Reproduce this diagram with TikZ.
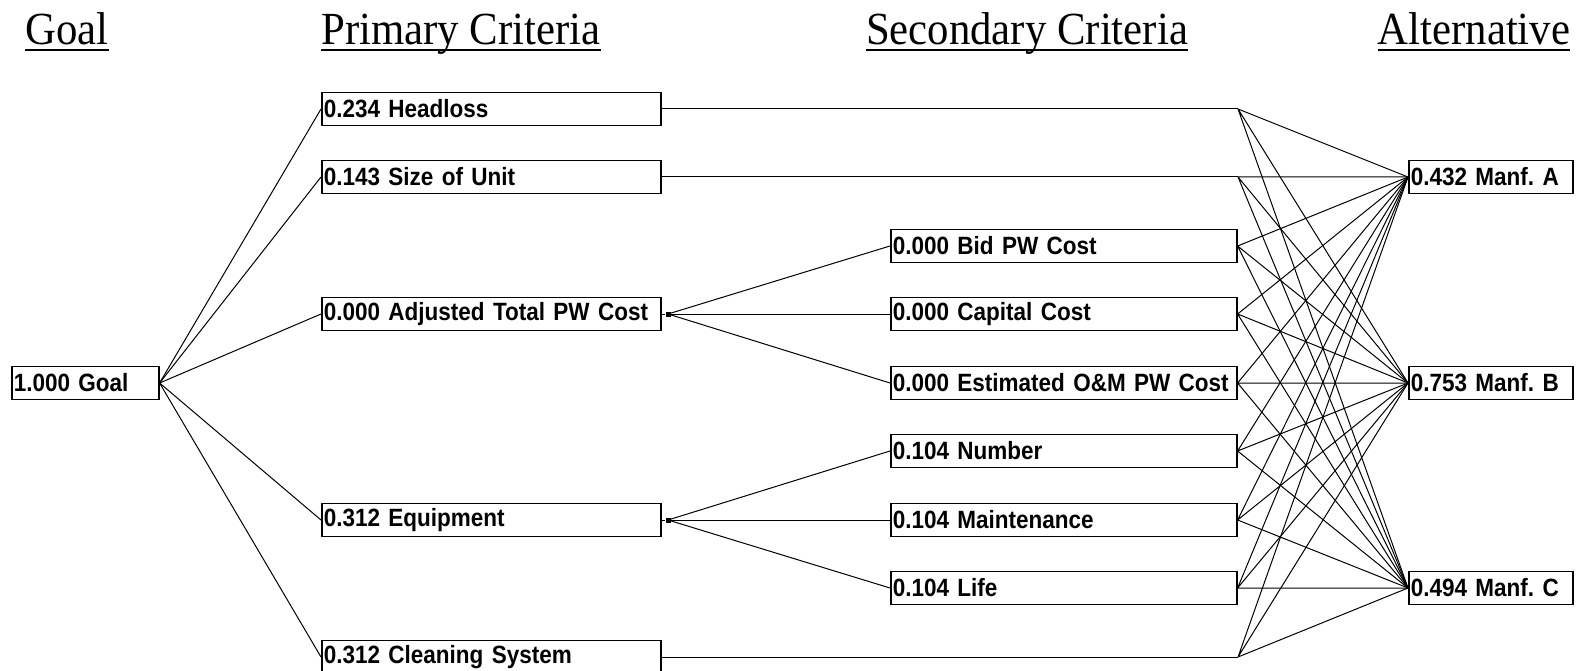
\documentclass[tikz,border=0pt]{standalone}
\usepackage{fontspec}
\setmainfont{Liberation Serif}[FakeStretch=0.93]
\newfontfamily\boxfont{Liberation Sans}[FakeStretch=0.9]
\frenchspacing

\begin{document}
\begin{tikzpicture}[x=1pt, y=-1pt]
 \tikzstyle{hdr}=[anchor=base, inner sep=0pt, font=\fontsize{46}{50}\selectfont]
 \tikzstyle{uline}=[line width=2.6pt]
 \tikzstyle{crit}=[draw, line width=1.6pt, anchor=west, minimum height=33pt, inner xsep=2pt, inner ysep=0pt, align=left, font=\boxfont\bfseries\fontsize{25}{28}\selectfont\frenchspacing]
 \tikzstyle{goalbox}=[crit, text width=143pt]
 \tikzstyle{prim}=[crit, text width=335pt]
 \tikzstyle{sec}=[crit, text width=342pt]
 \tikzstyle{alt}=[crit, text width=160pt]
 \tikzstyle{knot}=[fill=black, inner sep=0pt, minimum size=5pt]
 \tikzstyle{link}=[line width=1pt]
 \useasboundingbox (0, 0) rectangle (1579, 671);
 %
 \node[hdr] (hG) at (67, 45) {Goal};
 \node[hdr] (hP) at (461, 45) {Primary Criteria};
 \node[hdr] (hS) at (1027, 45) {Secondary Criteria};
 \node[hdr] (hA) at (1474, 45) {Alternative};
 \draw[uline] ([yshift=-5pt]hG.base west) -- ([yshift=-5pt]hG.base east);
 \draw[uline] ([yshift=-5pt]hP.base west) -- ([yshift=-5pt]hP.base east);
 \draw[uline] ([yshift=-5pt]hS.base west) -- ([yshift=-5pt]hS.base east);
 \draw[uline] ([yshift=-5pt]hA.base west) -- ([yshift=-5pt]hA.base east);
 %
 \node[goalbox] (G) at (11, 383) {1.000 Goal};
 %
 \node[prim] (P1) at (321, 109) {0.234 Headloss};
 \node[prim] (P2) at (321, 177) {0.143 Size of Unit};
 \node[prim] (P3) at (321, 314) {0.000 Adjusted Total PW Cost};
 \node[prim] (P4) at (321, 520) {0.312 Equipment};
 \node[prim] (P5) at (321, 657) {0.312 Cleaning System};
 %
 \node[sec] (S1) at (890, 246) {0.000 Bid PW Cost};
 \node[sec] (S2) at (890, 314) {0.000 Capital Cost};
 \node[sec] (S3) at (890, 383) {0.000 Estimated O\&M PW Cost};
 \node[sec] (S4) at (890, 451) {0.104 Number};
 \node[sec] (S5) at (890, 520) {0.104 Maintenance};
 \node[sec] (S6) at (890, 588) {0.104 Life};
 %
 \node[alt] (A) at (1408, 177) {0.432 Manf. A};
 \node[alt] (B) at (1408, 383) {0.753 Manf. B};
 \node[alt] (C) at (1408, 588) {0.494 Manf. C};
 %
 \node[knot] (k3) at (668, 314) {};
 \node[knot] (k4) at (668, 520) {};
 \coordinate (j1) at (1238, 109);
 \coordinate (j2) at (1238, 177);
 \coordinate (j5) at (1238, 657);
 %%
 \draw[link] (G.east)--(P1.west);
 \draw[link] (G.east)--(P2.west);
 \draw[link] (G.east)--(P3.west);
 \draw[link] (G.east)--(P4.west);
 \draw[link] (G.east)--(P5.west);
 %
 \draw[link] (P3.east)--(k3);
 \draw[link] (k3)--(S1.west);
 \draw[link] (k3)--(S2.west);
 \draw[link] (k3)--(S3.west);
 \draw[link] (P4.east)--(k4);
 \draw[link] (k4)--(S4.west);
 \draw[link] (k4)--(S5.west);
 \draw[link] (k4)--(S6.west);
 %
 \draw[link] (P1.east)--(j1);
 \draw[link] (P2.east)--(j2);
 \draw[link] (P5.east)--(j5);
 %
 \draw[link] (j1)--(A.west) (j1)--(B.west) (j1)--(C.west);
 \draw[link] (j2)--(A.west) (j2)--(B.west) (j2)--(C.west);
 \draw[link] (S1.east)--(A.west) (S1.east)--(B.west) (S1.east)--(C.west);
 \draw[link] (S2.east)--(A.west) (S2.east)--(B.west) (S2.east)--(C.west);
 \draw[link] (S3.east)--(A.west) (S3.east)--(B.west) (S3.east)--(C.west);
 \draw[link] (S4.east)--(A.west) (S4.east)--(B.west) (S4.east)--(C.west);
 \draw[link] (S5.east)--(A.west) (S5.east)--(B.west) (S5.east)--(C.west);
 \draw[link] (S6.east)--(A.west) (S6.east)--(B.west) (S6.east)--(C.west);
 \draw[link] (j5)--(A.west) (j5)--(B.west) (j5)--(C.west);
\end{tikzpicture}
\end{document}
